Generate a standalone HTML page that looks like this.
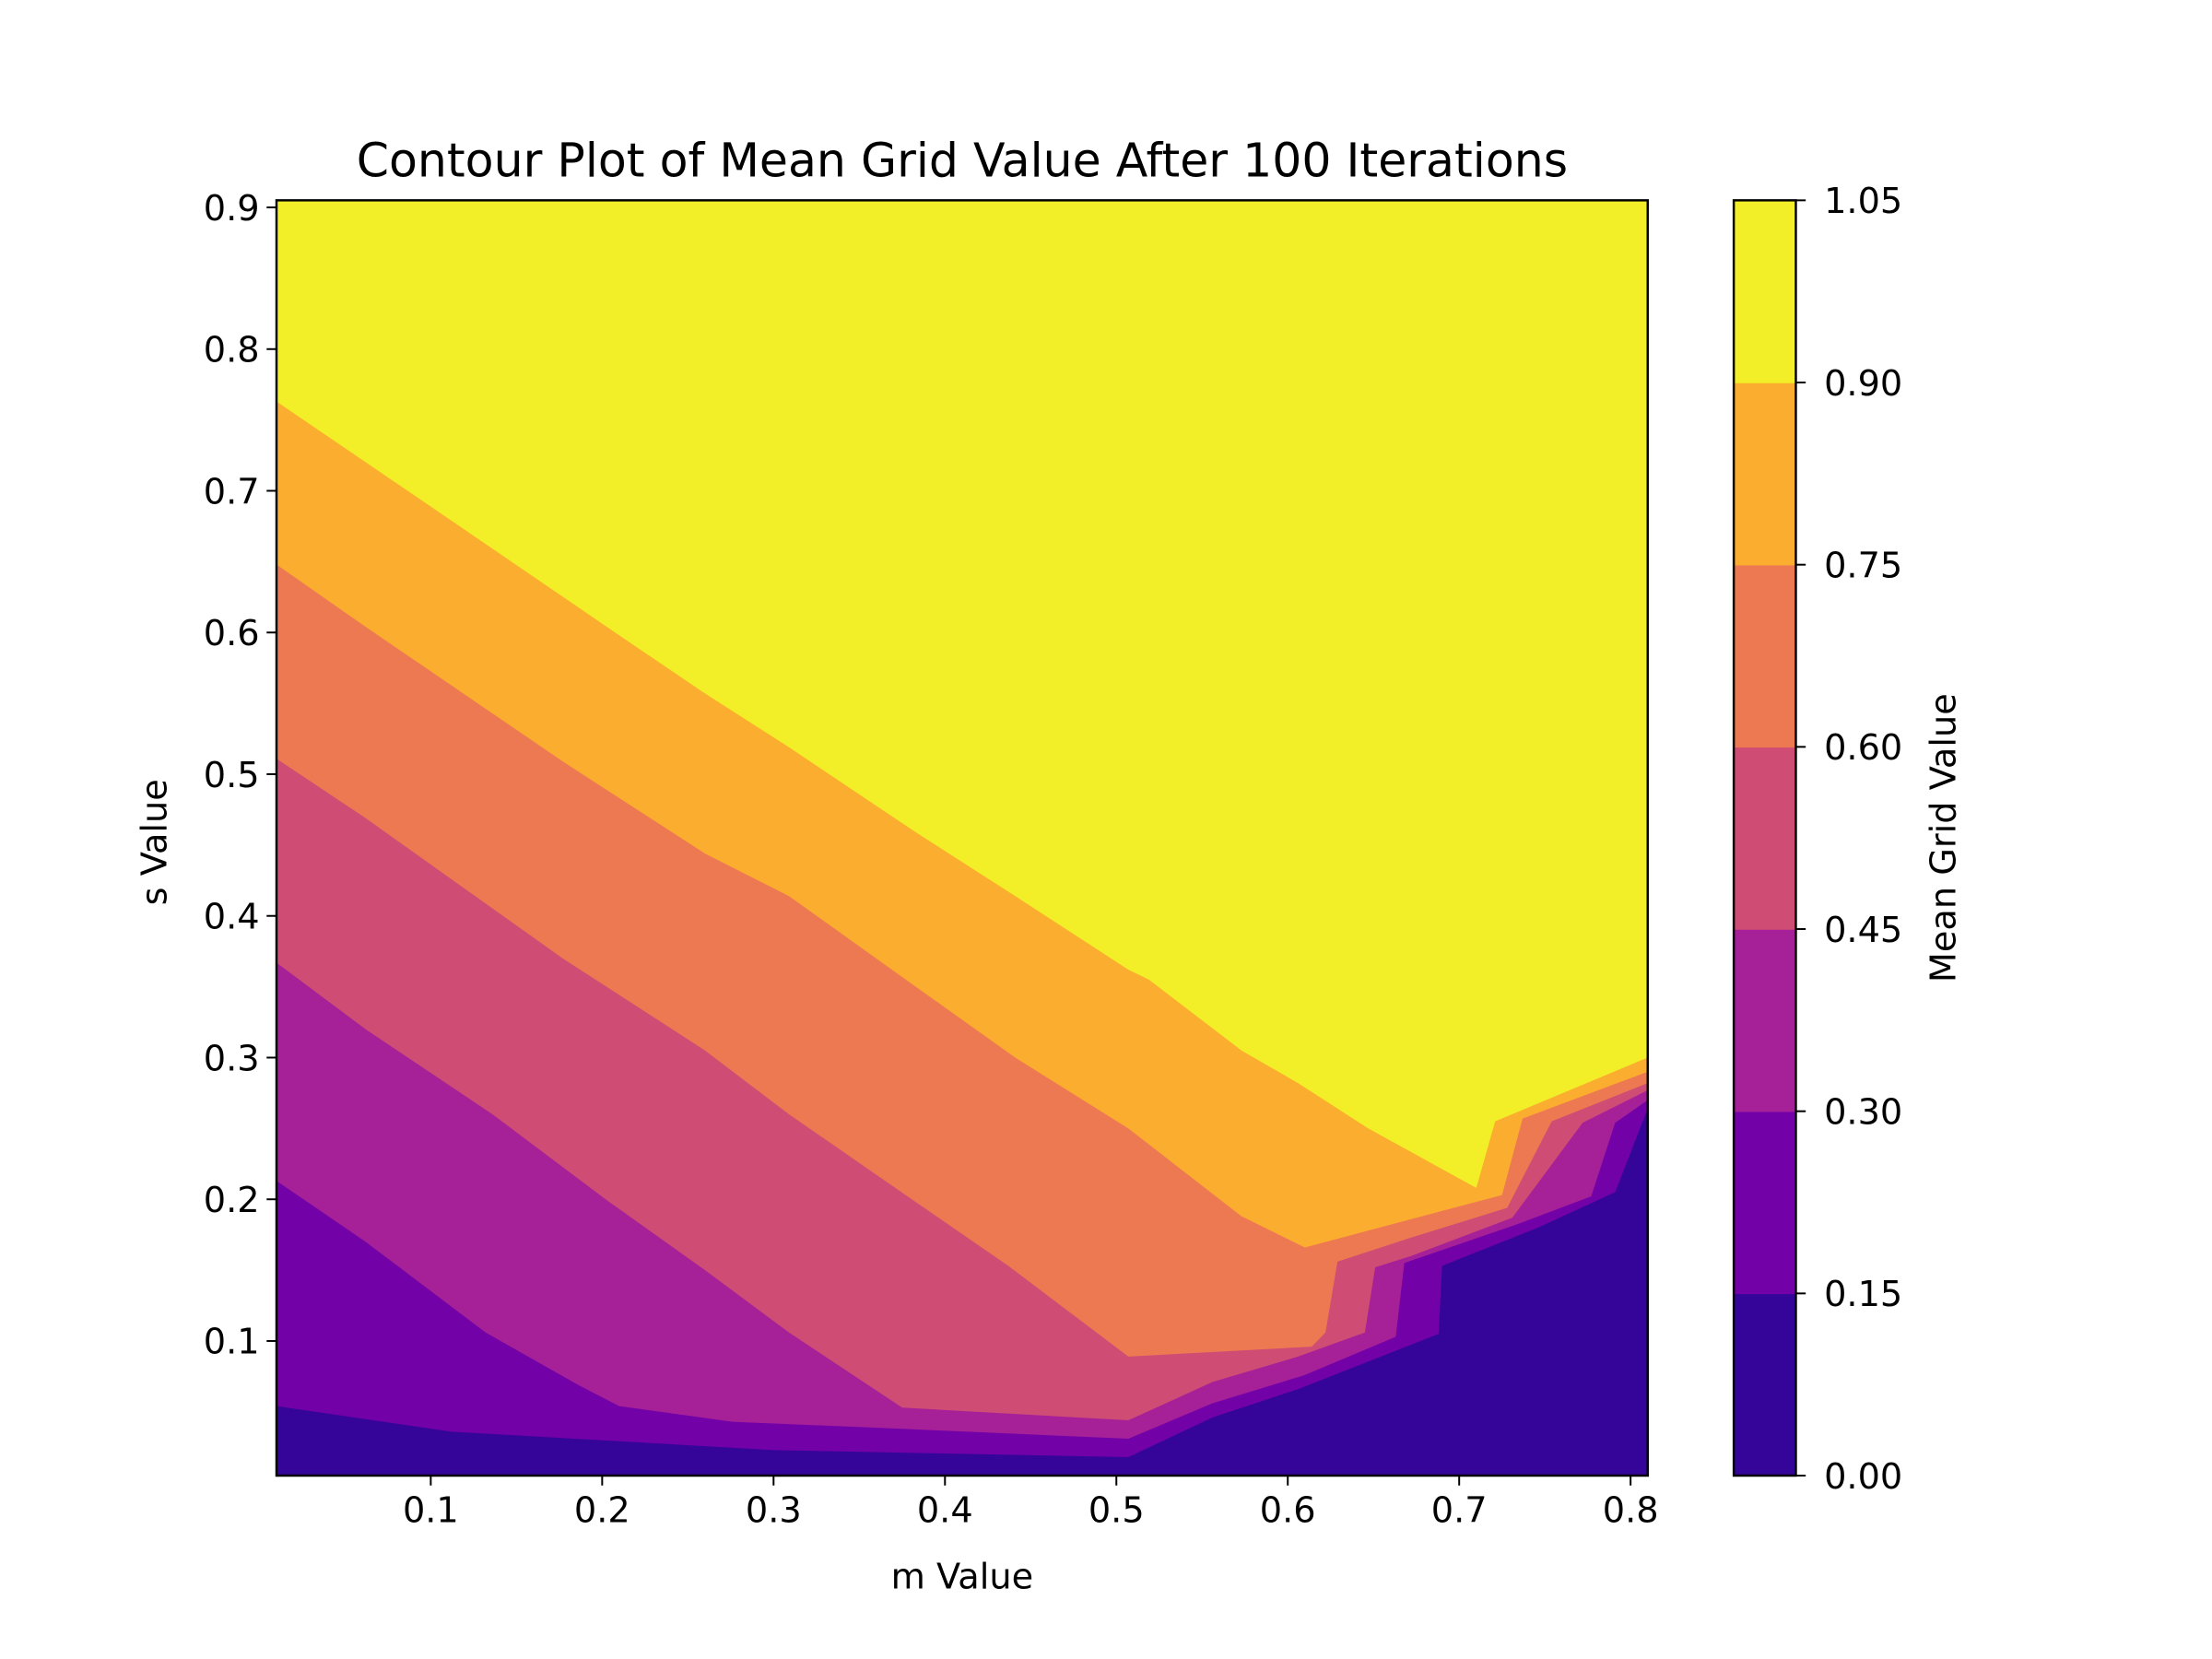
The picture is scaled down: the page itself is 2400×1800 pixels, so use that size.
<!DOCTYPE html>
<html><head><meta charset="utf-8"><style>
html,body{margin:0;padding:0;background:#fff;}
svg{display:block;font-family:"DejaVu Sans","Liberation Sans",sans-serif;}
</style></head><body>
<svg id="chart" width="2400" height="1800" viewBox="0 0 1568 1176" xmlns="http://www.w3.org/2000/svg">
<rect width="1568" height="1176" fill="#fff"/>
<g id="plot"></g>
<g id="axes"></g>
<g id="cbar"></g>
<text x="682" y="125" font-size="33" text-anchor="middle">Contour Plot of Mean Grid Value After 100 Iterations</text>
<text x="682" y="1126" font-size="25" text-anchor="middle">m Value</text>
<text x="118" y="597" font-size="25" text-anchor="middle" transform="rotate(-90 118 597)">s Value</text>
<text x="1386" y="594" font-size="25" text-anchor="middle" transform="rotate(-90 1386 594)">Mean Grid Value</text>
</svg>
<script>
const levels = [0.00, 0.15, 0.30, 0.45, 0.60, 0.75, 0.90, 1.05];
const levelColors = ["#350498", "#7201a8", "#a62098", "#cf4c74", "#ed7953", "#fbad30", "#f2ee27"];
const xTicks = [0.1, 0.2, 0.3, 0.4, 0.5, 0.6, 0.7, 0.8];
const yTicks = [0.1, 0.2, 0.3, 0.4, 0.5, 0.6, 0.7, 0.8, 0.9];
const cbTickLabels = ["0.00", "0.15", "0.30", "0.45", "0.60", "0.75", "0.90", "1.05"];
const mRange = [0.01, 0.81];
const sRange = [0.005, 0.905];
// contour boundaries as [m, s] pairs
const m015 = [0.01,0.112,0.300,0.507,0.556,0.606,0.688,0.690,0.746,0.791,0.810];
const s015 = [0.054,0.036,0.023,0.018,0.046,0.066,0.105,0.153,0.180,0.205,0.264];
const m030 = [0.01,0.062,0.132,0.186,0.210,0.276,0.375,0.507,0.556,0.610,0.663,0.668,0.733,0.777,0.791,0.810];
const s030 = [0.213,0.170,0.106,0.069,0.054,0.043,0.038,0.031,0.056,0.076,0.103,0.155,0.182,0.202,0.254,0.270];
const m045 = [0.01,0.062,0.136,0.202,0.260,0.309,0.375,0.507,0.556,0.606,0.645,0.651,0.672,0.731,0.772,0.810];
const s045 = [0.367,0.320,0.260,0.200,0.150,0.106,0.053,0.044,0.071,0.089,0.106,0.152,0.160,0.187,0.254,0.277];
const m060 = [0.01,0.062,0.177,0.260,0.309,0.383,0.437,0.507,0.614,0.622,0.629,0.672,0.728,0.754,0.810];
const s060 = [0.511,0.469,0.370,0.305,0.260,0.198,0.153,0.089,0.096,0.106,0.156,0.173,0.194,0.255,0.282];
const m075 = [0.01,0.062,0.177,0.260,0.309,0.383,0.441,0.507,0.573,0.610,0.672,0.725,0.737,0.810];
const s075 = [0.648,0.604,0.509,0.444,0.414,0.350,0.300,0.250,0.188,0.166,0.186,0.203,0.257,0.290];
const m090 = [0.01,0.095,0.210,0.260,0.309,0.383,0.441,0.507,0.519,0.573,0.606,0.647,0.710,0.721,0.810];
const s090 = [0.763,0.693,0.598,0.557,0.519,0.459,0.414,0.362,0.355,0.305,0.282,0.250,0.208,0.255,0.300];
const boundM = [m015, m030, m045, m060, m075, m090];
const boundS = [s015, s030, s045, s060, s075, s090];

const NS = "http://www.w3.org/2000/svg";
const PX0 = 196, PX1 = 1168, PY0 = 142, PY1 = 1046;
const xS = m => PX0 + (m - mRange[0]) / (mRange[1] - mRange[0]) * (PX1 - PX0);
const yS = s => PY1 - (s - sRange[0]) / (sRange[1] - sRange[0]) * (PY1 - PY0);
const cS = v => PY1 - (v - levels[0]) / (levels[levels.length-1] - levels[0]) * (PY1 - PY0);
function mk(tag, attrs, parent) {
  const e = document.createElementNS(NS, tag);
  for (const k in attrs) e.setAttribute(k, attrs[k]);
  parent.appendChild(e); return e;
}
const plot = document.getElementById('plot');
const bg = mk('rect', {x: PX0, y: PY0, width: PX1-PX0, height: PY1-PY0, fill: levelColors[0]}, plot);


for (let i = 0; i < boundM.length; i++) {
  const pts = boundM[i].map((m, j) => xS(m) + ',' + yS(boundS[i][j]));
  pts.push(xS(mRange[1]) + ',' + yS(sRange[1]));
  pts.push(xS(mRange[0]) + ',' + yS(sRange[1]));
  const p = mk('polygon', {points: pts.join(' '), fill: levelColors[i+1]}, plot);
  
  
}
const axes = document.getElementById('axes');
mk('rect', {x: PX0, y: PY0, width: PX1-PX0, height: PY1-PY0, fill: 'none', stroke: '#000', 'stroke-width': 1.6}, axes);
xTicks.forEach(t => {
  const x = xS(t);
  mk('line', {x1: x, x2: x, y1: PY1, y2: PY1+7, stroke: '#000', 'stroke-width': 1.3}, axes);
  const tx = mk('text', {x: x, y: PY1+33, 'font-size': 25, 'text-anchor': 'middle'}, axes);
  tx.textContent = t.toFixed(1);
  
  
});
yTicks.forEach(t => {
  const y = yS(t);
  mk('line', {x1: PX0-7, x2: PX0, y1: y, y2: y, stroke: '#000', 'stroke-width': 1.3}, axes);
  const tx = mk('text', {x: PX0-12, y: y+9, 'font-size': 25, 'text-anchor': 'end'}, axes);
  tx.textContent = t.toFixed(1);
  
  
});
const cbar = document.getElementById('cbar');
const CX0 = 1229, CX1 = 1273;
for (let i = 0; i < levelColors.length; i++) {
  const r = mk('rect', {x: CX0, y: cS(levels[i+1]), width: CX1-CX0, height: cS(levels[i]) - cS(levels[i+1]) + 0.5, fill: levelColors[i]}, cbar);
  
  
}
mk('rect', {x: CX0, y: PY0, width: CX1-CX0, height: PY1-PY0, fill: 'none', stroke: '#000', 'stroke-width': 1.6}, cbar);
levels.forEach((v, i) => {
  const y = cS(v);
  mk('line', {x1: CX1, x2: CX1+7, y1: y, y2: y, stroke: '#000', 'stroke-width': 1.3}, cbar);
  const tx = mk('text', {x: CX1+20, y: y+9, 'font-size': 25}, cbar);
  tx.textContent = cbTickLabels[i];
  
  
});
</script>
</body></html>
